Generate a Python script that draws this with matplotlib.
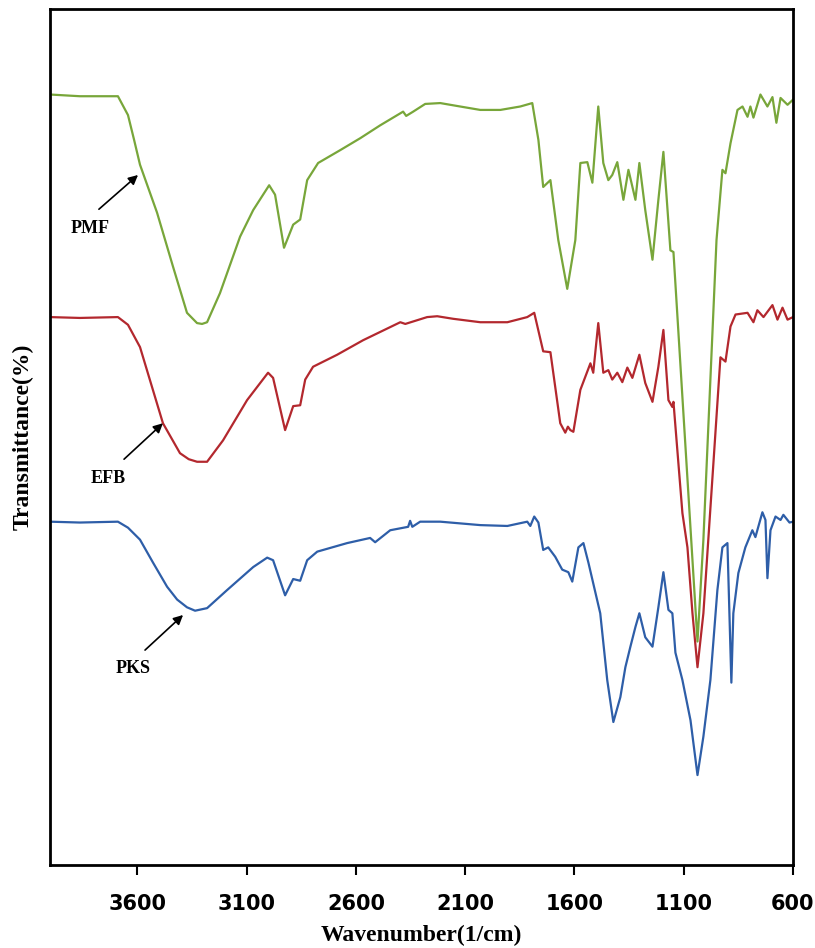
import matplotlib.pyplot as plt

# FTIR spectra (wavenumber in 1/cm, transmittance in a.u.)
pmf_wn = [4000, 3863, 3689, 3643, 3615, 3588, 3510, 3437, 3373, 3327, 3304, 3281, 3222,
          3130, 3070, 2997, 2970, 2929, 2887, 2855, 2823, 2773, 2672, 2580, 2489, 2384,
          2370, 2338, 2283, 2214, 2123, 2031, 1939, 1848, 1793, 1765, 1743, 1710, 1674,
          1633, 1596, 1573, 1541, 1518, 1491, 1468, 1445, 1427, 1404, 1376, 1353, 1321,
          1303, 1276, 1243, 1216, 1193, 1161, 1147, 1037, 1010, 978, 950, 923, 909, 886,
          854, 831, 808, 795, 781, 749, 717, 694, 676, 657, 625, 600]
pmf_t = [90.0, 89.8, 89.8, 87.6, 84.7, 81.8, 76.2, 69.9, 64.5, 63.3, 63.2, 63.4, 66.8,
         73.4, 76.5, 79.4, 78.3, 72.1, 74.8, 75.4, 80.0, 82.0, 83.5, 84.9, 86.4, 88.0,
         87.5, 88.0, 88.9, 89.0, 88.6, 88.2, 88.2, 88.6, 89.0, 84.7, 79.2, 80.0, 73.0,
         67.3, 73.0, 82.0, 82.1, 79.7, 88.6, 82.0, 80.0, 80.6, 82.1, 77.7, 81.2, 77.7,
         82.0, 76.5, 70.7, 77.7, 83.3, 71.8, 71.6, 26.1, 38.0, 56.7, 73.0, 81.2, 80.8, 84.3,
         88.2, 88.6, 87.4, 88.6, 87.3, 90.0, 88.6, 89.7, 86.7, 89.6, 88.8, 89.4]

efb_wn = [4000, 3863, 3689, 3643, 3588, 3483, 3405, 3365, 3327, 3281, 3208, 3098, 3002,
          2979, 2924, 2887, 2855, 2832, 2796, 2686, 2567, 2397, 2374, 2274, 2228, 2155,
          2031, 1907, 1816, 1784, 1743, 1710, 1665, 1642, 1630, 1619, 1605, 1573, 1527,
          1514, 1491, 1468, 1445, 1427, 1404, 1381, 1358, 1335, 1303, 1276, 1243, 1216,
          1193, 1170, 1152, 1147, 1106, 1083, 1060, 1037, 1010, 964, 932, 909, 886, 863,
          808, 781, 763, 735, 694, 671, 648, 625, 600]
efb_t = [64.0, 63.9, 64.0, 63.1, 60.5, 51.6, 48.1, 47.4, 47.1, 47.1, 49.6, 54.3, 57.5,
         56.9, 50.8, 53.6, 53.7, 56.7, 58.2, 59.6, 61.3, 63.4, 63.2, 64.0, 64.1, 63.8,
         63.4, 63.4, 64.0, 64.5, 60.0, 59.9, 51.6, 50.5, 51.2, 50.8, 50.6, 55.5, 58.6,
         57.5, 63.3, 57.5, 57.8, 56.7, 57.5, 56.4, 58.1, 56.9, 59.6, 56.3, 54.1, 58.2,
         62.5, 54.3, 53.5, 54.1, 41.1, 37.1, 29.4, 23.1, 29.4, 47.0, 59.3, 58.8, 62.9, 64.3,
         64.5, 63.4, 64.8, 64.0, 65.4, 63.7, 65.1, 63.7, 64.0]

pks_wn = [4000, 3863, 3689, 3643, 3588, 3528, 3464, 3418, 3373, 3336, 3281, 3190, 3070,
          3006, 2979, 2924, 2887, 2855, 2823, 2777, 2640, 2535, 2512, 2443, 2361, 2352,
          2342, 2306, 2214, 2031, 1907, 1816, 1802, 1784, 1765, 1743, 1720, 1688, 1656,
          1628, 1610, 1582, 1559, 1536, 1504, 1482, 1450, 1422, 1390, 1367, 1344, 1321,
          1303, 1276, 1243, 1216, 1193, 1170, 1152, 1138, 1106, 1069, 1037, 1010, 978,
          946, 923, 900, 882, 873, 850, 818, 786, 772, 740, 726, 717, 703, 680, 657, 644,
          616, 600]
pks_t = [40.1, 40.0, 40.1, 39.4, 38.0, 35.3, 32.5, 31.0, 30.1, 29.7, 30.0, 32.1, 34.8,
         35.9, 35.6, 31.5, 33.4, 33.2, 35.6, 36.6, 37.6, 38.2, 37.7, 39.1, 39.5, 40.2,
         39.5, 40.1, 40.1, 39.7, 39.6, 40.1, 39.6, 40.7, 40.0, 36.8, 37.1, 36.0, 34.5,
         34.2, 33.1, 37.1, 37.6, 35.3, 31.8, 29.4, 21.6, 16.7, 19.6, 23.1, 25.5, 27.8,
         29.4, 26.6, 25.5, 30.1, 34.2, 29.8, 29.4, 24.8, 21.6, 16.9, 10.5, 15.0, 21.6,
         32.1, 37.1, 37.6, 21.3, 29.4, 34.1, 37.1, 39.1, 38.3, 41.2, 40.3, 33.5, 39.1,
         40.7, 40.3, 40.9, 40.0, 40.1]

series = [
    ('PMF', pmf_wn, pmf_t, '#78a63a'),
    ('EFB', efb_wn, efb_t, '#b3282e'),
    ('PKS', pks_wn, pks_t, '#2e5ea8'),
]

fig = plt.figure(figsize=(8.15, 9.48), dpi=100)
ax = fig.add_axes([0.0613, 0.0876, 0.9117, 0.903])

for name, wn, t, color in series:
    ax.plot(wn, t, color=color, lw=1.6, solid_joinstyle='round')

ax.set_xlim(4000, 600)
ax.set_ylim(0, 100)
ax.set_xticks([3600, 3100, 2600, 2100, 1600, 1100, 600])
ax.set_yticks([])
ax.tick_params(axis='x', direction='out', length=7, width=1.5, pad=14,
               labelsize=15)
for lab in ax.get_xticklabels():
    lab.set_fontweight('bold')
for sp in ax.spines.values():
    sp.set_linewidth(2)

serif = ['Liberation Serif', 'DejaVu Serif']
ax.set_xlabel('Wavenumber(1/cm)', family=serif, fontweight='bold', fontsize=17, labelpad=8)
ax.set_ylabel('Transmittance(%)', family=serif, fontweight='bold', fontsize=17, labelpad=12)

# labels with arrows
notes = [('PMF', (3817, 74.3), (3776, 76.6), (3597, 80.6)),
         ('EFB', (3734, 45.2), (3661, 47.4), (3483, 51.6)),
         ('PKS', (3620, 22.9), (3565, 25.1), (3391, 29.2))]
for label, txt_xy, tail, head in notes:
    ax.text(*txt_xy, label, family=serif, fontweight='bold', fontsize=13,
            ha='center', va='center')
    ax.annotate('', xy=head, xytext=tail,
                arrowprops=dict(arrowstyle='-|>', color='black', lw=1.2,
                                mutation_scale=14, shrinkA=0, shrinkB=0))

fig.savefig('out.png', dpi=100)
